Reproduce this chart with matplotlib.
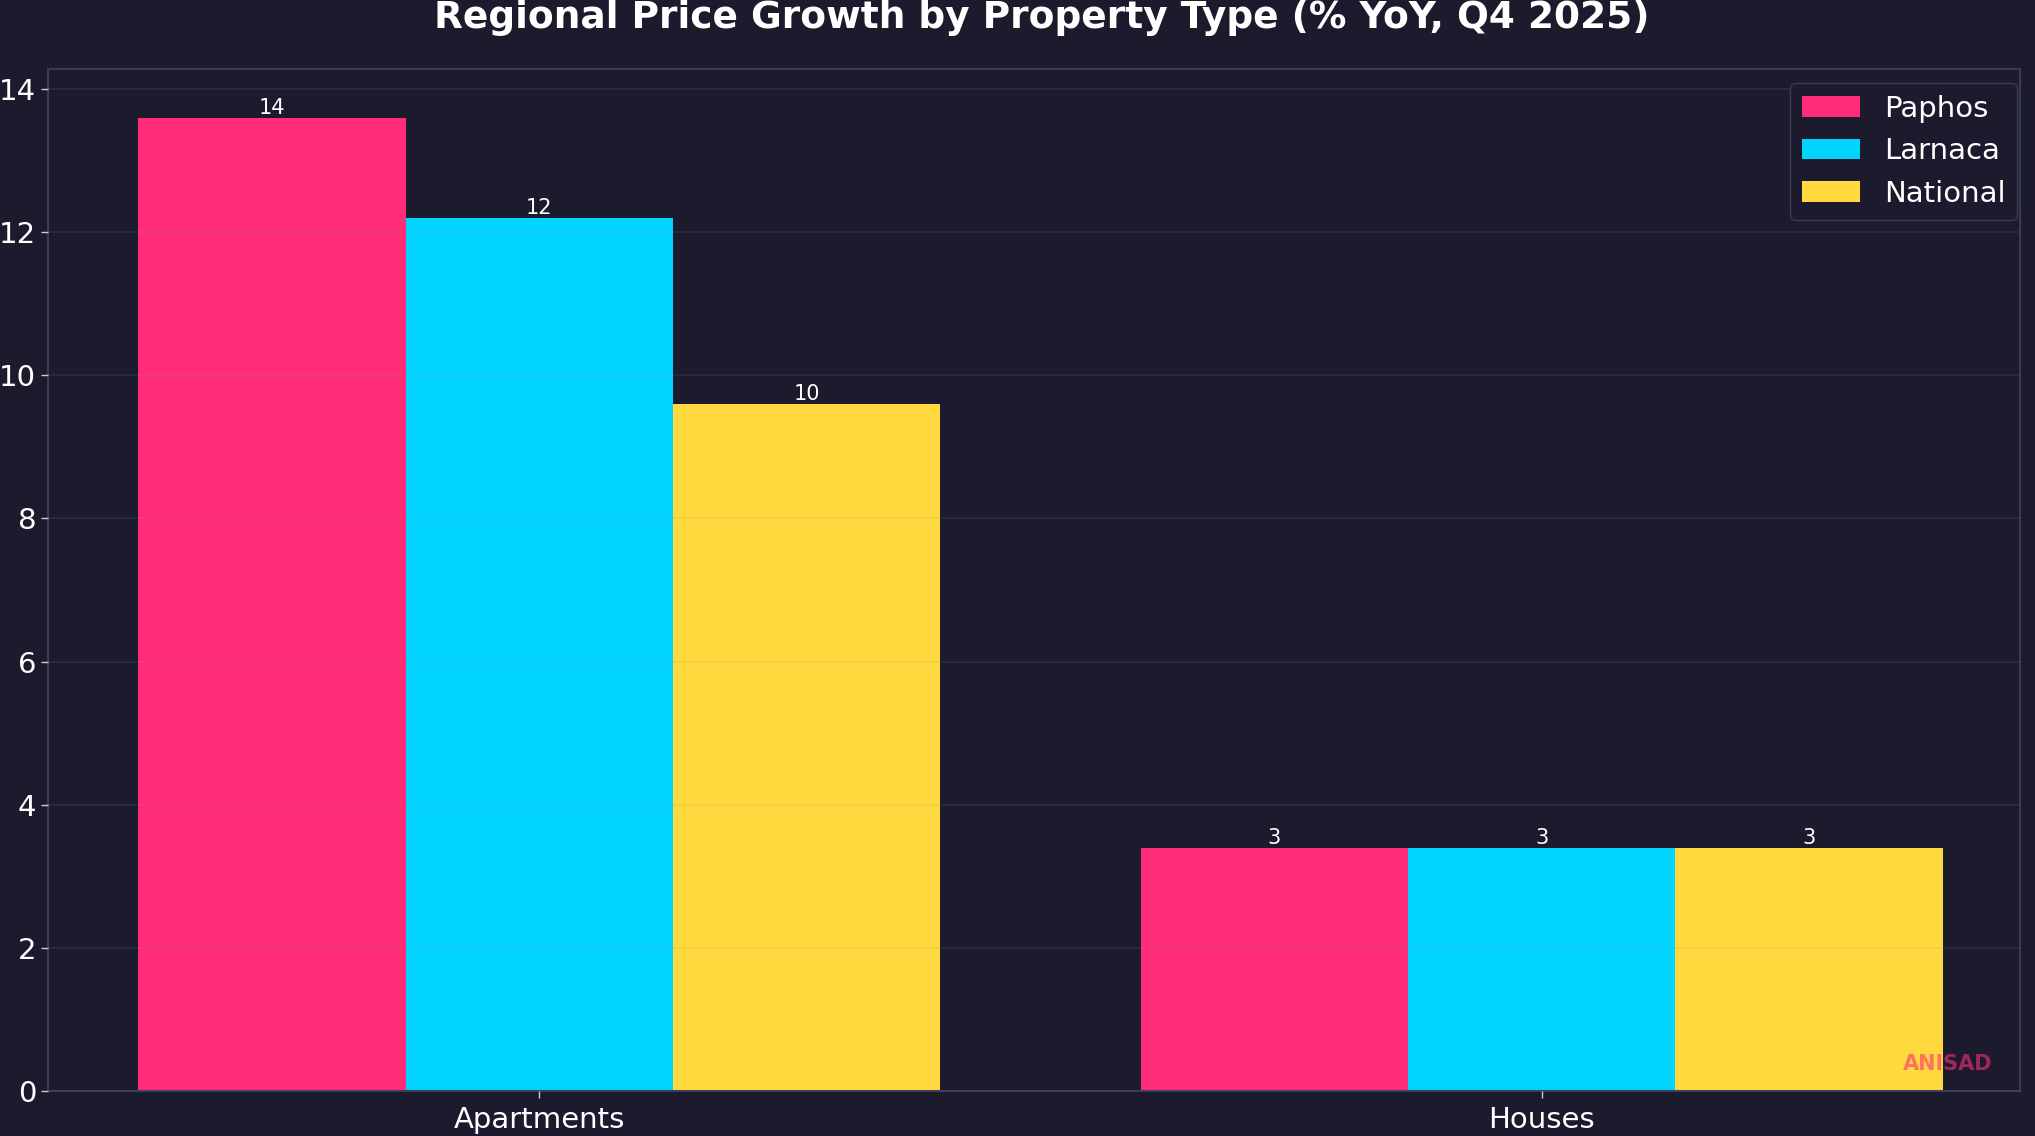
import numpy as np
import matplotlib
matplotlib.use('Agg')
import matplotlib.pyplot as plt

# data
categories = ['Apartments', 'Houses']
regions = ['Paphos', 'Larnaca', 'National']
paphos = [13.6, 3.4]
larnaca = [12.2, 3.4]
national = [9.6, 3.4]

colors = ['#FF2D78', '#00D4FF', '#FFD93D']
bg = '#1C1B2E'

plt.rcParams['font.family'] = 'DejaVu Sans'

fig = plt.figure(figsize=(20.35, 11.36), dpi=100, facecolor=bg)
ax = fig.add_axes([48/2035, 45/1136, 1972/2035, 1022/1136])
ax.set_facecolor(bg)

x = np.arange(len(categories))
w = 0.8 / 3
series = [paphos, larnaca, national]
for i, (name, vals) in enumerate(zip(regions, series)):
    bars = ax.bar(x + (i - 1) * w, vals, w, label=name, color=colors[i], zorder=2)
    ax.bar_label(bars, fmt='%.0f', padding=0, color='white', fontsize=15)

ax.set_xticks(x)
ax.set_xticklabels(categories)
ax.set_xlim(-0.49, 1.477)
ax.tick_params(axis='both', colors='#cccccc', labelcolor='white', labelsize=21, length=5, width=1)
ax.tick_params(axis='x', pad=6)

ax.grid(axis='y', color='#8a8aa8', alpha=0.12, linewidth=1.3, zorder=3)
ax.set_axisbelow(False)

for s in ax.spines.values():
    s.set_color('#3a3956')
    s.set_linewidth(1.5)

ax.set_title('Regional Price Growth by Property Type (% YoY, Q4 2025)',
             color='white', fontsize=27, fontweight='bold', pad=29.5, x=0.504)

leg = ax.legend(loc='upper right', bbox_to_anchor=(0.9985, 0.9863), borderaxespad=0,
                fontsize=21, facecolor=bg, edgecolor='#3a3956', framealpha=1)
for t in leg.get_texts():
    t.set_color('white')

ax.text(0.986, 0.017, 'ANISAD', transform=ax.transAxes, ha='right', va='bottom',
        color='#FF2D78', alpha=0.6, fontsize=15, fontweight='bold', zorder=5)

fig.savefig('out.png', dpi=100, facecolor=bg)
